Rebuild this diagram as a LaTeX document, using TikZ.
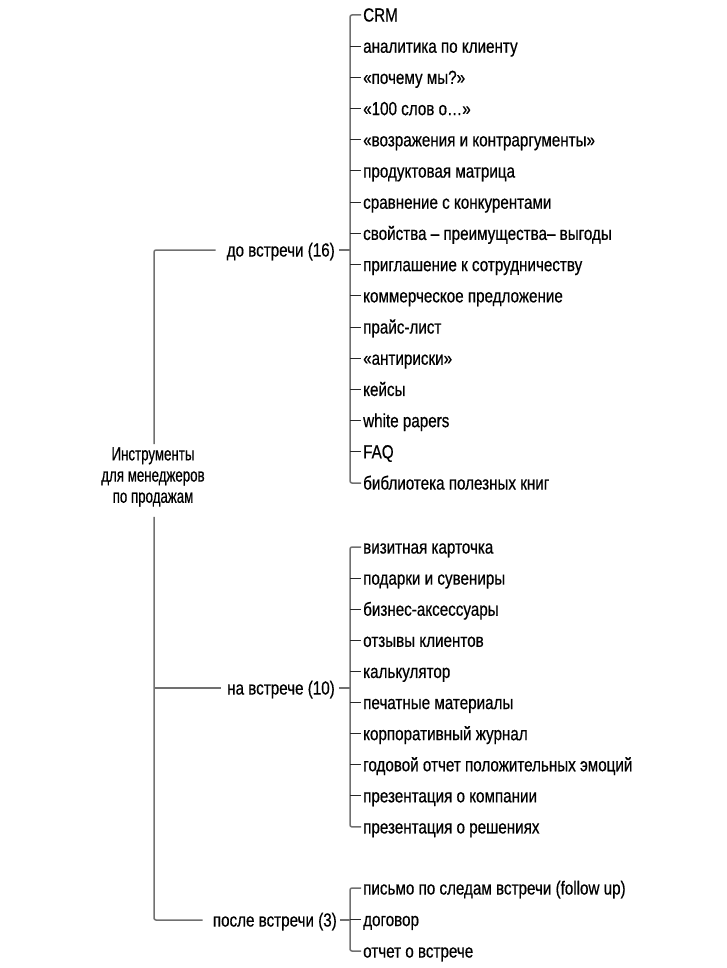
\documentclass[tikz,border=0pt]{standalone}
\usepackage{fontspec}
\setmainfont{Liberation Sans}[FakeStretch=0.8,FakeBold=0.5]
\newfontfamily\rootfont{Liberation Sans}[FakeStretch=0.7,FakeBold=0.5]
\definecolor{linegray}{HTML}{707070}
\begin{document}
\begin{tikzpicture}[x=1pt,y=-1pt,
  gline/.style={draw=linegray, line width=1.5pt},
  dline/.style={draw=black!85, line width=1pt},
  txt/.style={inner sep=0pt, text height=16.5pt, text depth=3.4pt, font=\fontsize{19}{21.5}\selectfont},
  item/.style={txt, anchor=west},
  branch/.style={txt, anchor=east},
]
\useasboundingbox (0,0) rectangle (726,968);

% root
\node[inner sep=0pt, align=center, font=\rootfont\fontsize{19}{21.2}\selectfont] (root) at (153,477) {Инструменты\\для менеджеров\\по продажам};

% branch labels
\node[branch] (b1) at (335,250) {до встречи (16)};
\node[branch] (b2) at (335,688) {на встрече (10)};
\node[branch] (b3) at (337,920) {после встречи (3)};

% group 1
\foreach \t [count=\i] in {CRM,аналитика по клиенту,«почему мы?»,«100 слов о…»,«возражения и контраргументы»,продуктовая матрица,сравнение с конкурентами,свойства – преимущества– выгоды,приглашение к сотрудничеству,коммерческое предложение,прайс-лист,«антириски»,кейсы,white papers,FAQ,библиотека полезных книг}
  \node[item] (a\i) at (363,{15+31.2*(\i-1)}) {\t};

% group 2
\foreach \t [count=\i] in {визитная карточка,подарки и сувениры,бизнес-аксессуары,отзывы клиентов,калькулятор,печатные материалы,корпоративный журнал,годовой отчет положительных эмоций,презентация о компании,презентация о решениях}
  \node[item] (c\i) at (363,{547+31.1*(\i-1)}) {\t};

% group 3
\foreach \t [count=\i] in {письмо по следам встречи (follow up),договор,отчет о встрече}
  \node[item] (d\i) at (363,{888+31.5*(\i-1)}) {\t};

% bracket coordinates
\coordinate (k1) at ([xshift=-13pt]a1.west);
\coordinate (k2) at ([xshift=-13pt]c1.west);
\coordinate (k3) at ([xshift=-13pt]d1.west);
\coordinate (tr) at (154,477);

% trunk
\draw[gline, rounded corners=2pt] ([xshift=-11pt]b1.west) -| ([yshift=3pt]tr |- root.north);
\draw[gline, rounded corners=2pt] ([yshift=-10pt]tr |- root.south) |- ([xshift=-10pt]b3.west);
\draw[gline] (tr |- b2.west) -- ([xshift=-6pt]b2.west);

% branch to bracket
\draw[gline] ([xshift=4pt]b1.east) -- (k1 |- b1.east);
\draw[gline] ([xshift=4pt]b2.east) -- (k2 |- b2.east);
\draw[gline] ([xshift=3pt]b3.east) -- (k3 |- b3.east);

% brackets
\draw[gline, rounded corners=2pt] ([xshift=-2pt]a1.west) -| ([xshift=-13pt]a16.west) -- ([xshift=-2pt]a16.west);
\draw[gline, rounded corners=2pt] ([xshift=-2pt]c1.west) -| ([xshift=-13pt]c10.west) -- ([xshift=-2pt]c10.west);
\draw[gline, rounded corners=2pt] ([xshift=-2pt]d1.west) -| ([xshift=-13pt]d3.west) -- ([xshift=-2pt]d3.west);

% item dashes
\foreach \i in {2,...,15} \draw[dline] ([xshift=-13pt]a\i.west) -- ([xshift=-2pt]a\i.west);
\foreach \i in {2,...,9} \draw[dline] ([xshift=-13pt]c\i.west) -- ([xshift=-2pt]c\i.west);
\draw[dline] ([xshift=-13pt]d2.west) -- ([xshift=-2pt]d2.west);
\end{tikzpicture}
\end{document}
